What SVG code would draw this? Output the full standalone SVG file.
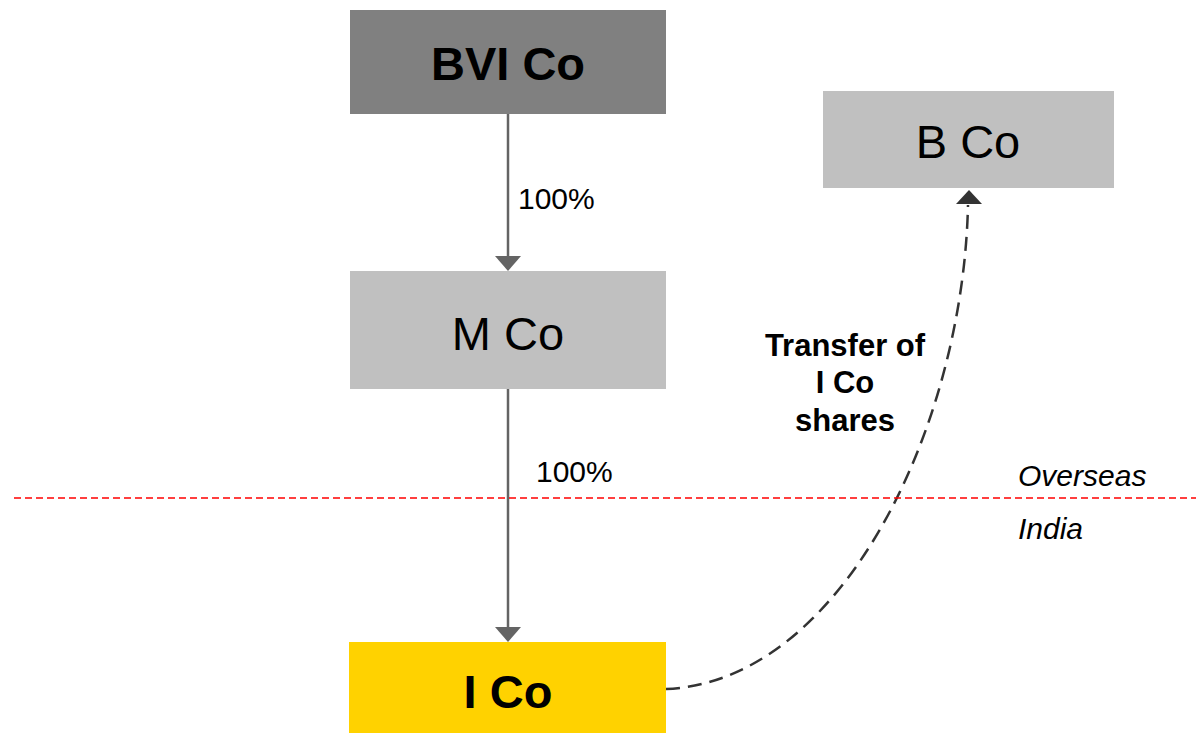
<svg xmlns="http://www.w3.org/2000/svg" width="1196" height="733" viewBox="0 0 1196 733">
<defs>
<style>
.big{font-family:"Liberation Sans",Arial,sans-serif;font-size:47px;text-anchor:middle;fill:#000}
.b{font-weight:bold}
.lbl{font-family:"Liberation Sans",Arial,sans-serif;font-size:30px;fill:#000}
.it{font-style:italic}
.tr{font-size:31px}
.conn{stroke:#646464;stroke-width:2.5;fill:none}
</style>
</defs>
<rect width="1196" height="733" fill="#ffffff"/>
<g id="connectors">
<line class="conn" x1="508" y1="114" x2="508" y2="258"/>
<path d="M495,256 L521,256 L508,271 z" fill="#646464"/>
<line class="conn" x1="508" y1="389" x2="508" y2="629"/>
<path d="M495,627 L521,627 L508,642 z" fill="#646464"/>
<path d="M666,689 C840,682 963,430 968,205" fill="none" stroke="#333333" stroke-width="2.5" stroke-dasharray="14,8"/>
<path d="M956,204 L982,204 L969,190 z" fill="#333333"/>
</g>
<line id="border" x1="14" y1="498" x2="1196" y2="498" stroke="#ff0000" stroke-width="1.5" stroke-dasharray="7,4"/>
<g id="bvi">
<rect x="350" y="10" width="316" height="104" fill="#808080"/>
<text class="big b" x="508" y="80">BVI Co</text>
</g>
<g id="bco">
<rect x="823" y="91" width="291" height="97" fill="#c0c0c0"/>
<text class="big" x="968" y="158">B Co</text>
</g>
<g id="mco">
<rect x="350" y="271" width="316" height="118" fill="#c0c0c0"/>
<text class="big" x="508" y="350">M Co</text>
</g>
<g id="ico">
<rect x="349" y="642" width="317" height="91" fill="#ffd200"/>
<text class="big b" x="508" y="708">I Co</text>
</g>
<g id="labels">
<text class="lbl" x="518" y="209">100%</text>
<text class="lbl" x="536" y="482">100%</text>
<text class="lbl it" x="1018" y="486">Overseas</text>
<text class="lbl it" x="1018" y="539">India</text>
<text class="lbl b tr" x="845" y="356" text-anchor="middle">Transfer of</text>
<text class="lbl b tr" x="845" y="393" text-anchor="middle">I Co</text>
<text class="lbl b tr" x="845" y="431" text-anchor="middle">shares</text>
</g>
</svg>
